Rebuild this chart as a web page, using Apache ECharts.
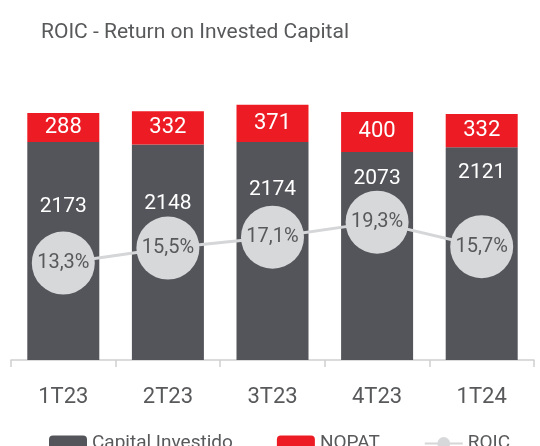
<!DOCTYPE html>
<html>
<head>
<meta charset="utf-8">
<script src="https://cdn.jsdelivr.net/npm/echarts@6/dist/echarts.min.js"></script>
<style>
  html, body { margin: 0; padding: 0; background: #fff; }
  #chart { width: 540px; height: 446px; }
</style>
</head>
<body>
<div id="chart"></div>
<script>
// dados
var quarters = ['1T23', '2T23', '3T23', '4T23', '1T24'];
var capitalInvestido = [2173, 2148, 2174, 2073, 2121];
var nopat = [288, 332, 371, 400, 332];
var roic = [13.3, 15.5, 17.1, 19.3, 15.7];

// deslocamento vertical dos rótulos do capital (para não bater nos círculos)
var capLabelDy = [49, 44, 32, 11, 10];

var fontFam = 'Roboto, "Noto Sans", sans-serif';
var textGray = '#58595b';

var myChart = echarts.init(document.getElementById('chart'));

var option = {
  animation: false,
  title: {
    text: 'ROIC - Return on Invested Capital',
    left: 36,
    top: 17,
    textStyle: { color: textGray, fontSize: 21, fontWeight: 'normal', fontFamily: fontFam }
  },
  legend: {
    left: 44,
    top: 429,
    itemWidth: 38,
    itemHeight: 16,
    itemGap: 44,
    textStyle: { color: textGray, fontSize: 19, fontFamily: fontFam },
    data: ['Capital Investido', 'NOPAT', 'ROIC']
  },
  grid: { left: 11, right: 6, top: 59, bottom: 86 },
  xAxis: {
    type: 'category',
    data: quarters,
    axisLine: { lineStyle: { color: '#cfcfcf', width: 1.5 } },
    axisTick: { show: true, length: 7, lineStyle: { color: '#cfcfcf', width: 1.5 } },
    axisLabel: { color: textGray, fontSize: 22, margin: 26, fontFamily: fontFam }
  },
  yAxis: [
    { type: 'value', min: 0, max: 3000, show: false },
    { type: 'value', min: -0.9, max: 43.2, show: false }
  ],
  series: [
    {
      name: 'Capital Investido',
      type: 'bar',
      stack: 'total',
      barWidth: 72,
      itemStyle: { color: '#54555a' },
      label: {
        show: true,
        position: 'insideTop',
        distance: 5,
        color: '#fff',
        fontSize: 21,
        fontFamily: fontFam
      },
      data: capitalInvestido.map(function (v, i) {
        return { value: v, label: { offset: [0, capLabelDy[i]] } };
      })
    },
    {
      name: 'NOPAT',
      type: 'bar',
      stack: 'total',
      barWidth: 72,
      itemStyle: { color: '#ed1c24' },
      label: {
        show: true,
        position: 'inside',
        color: '#fff',
        fontSize: 22,
        fontFamily: fontFam
      },
      data: nopat
    },
    {
      name: 'ROIC',
      type: 'line',
      yAxisIndex: 1,
      z: 5,
      symbol: 'circle',
      symbolSize: 63,
      lineStyle: { color: '#d5d6d8', width: 3 },
      itemStyle: { color: '#d7d8da' },
      label: {
        show: true,
        position: 'inside',
        color: textGray,
        fontSize: 20,
        fontFamily: fontFam,
        formatter: function (p) {
          return p.value.toFixed(1).replace('.', ',') + '%';
        }
      },
      data: roic
    }
  ]
};

myChart.setOption(option);
</script>
</body>
</html>
